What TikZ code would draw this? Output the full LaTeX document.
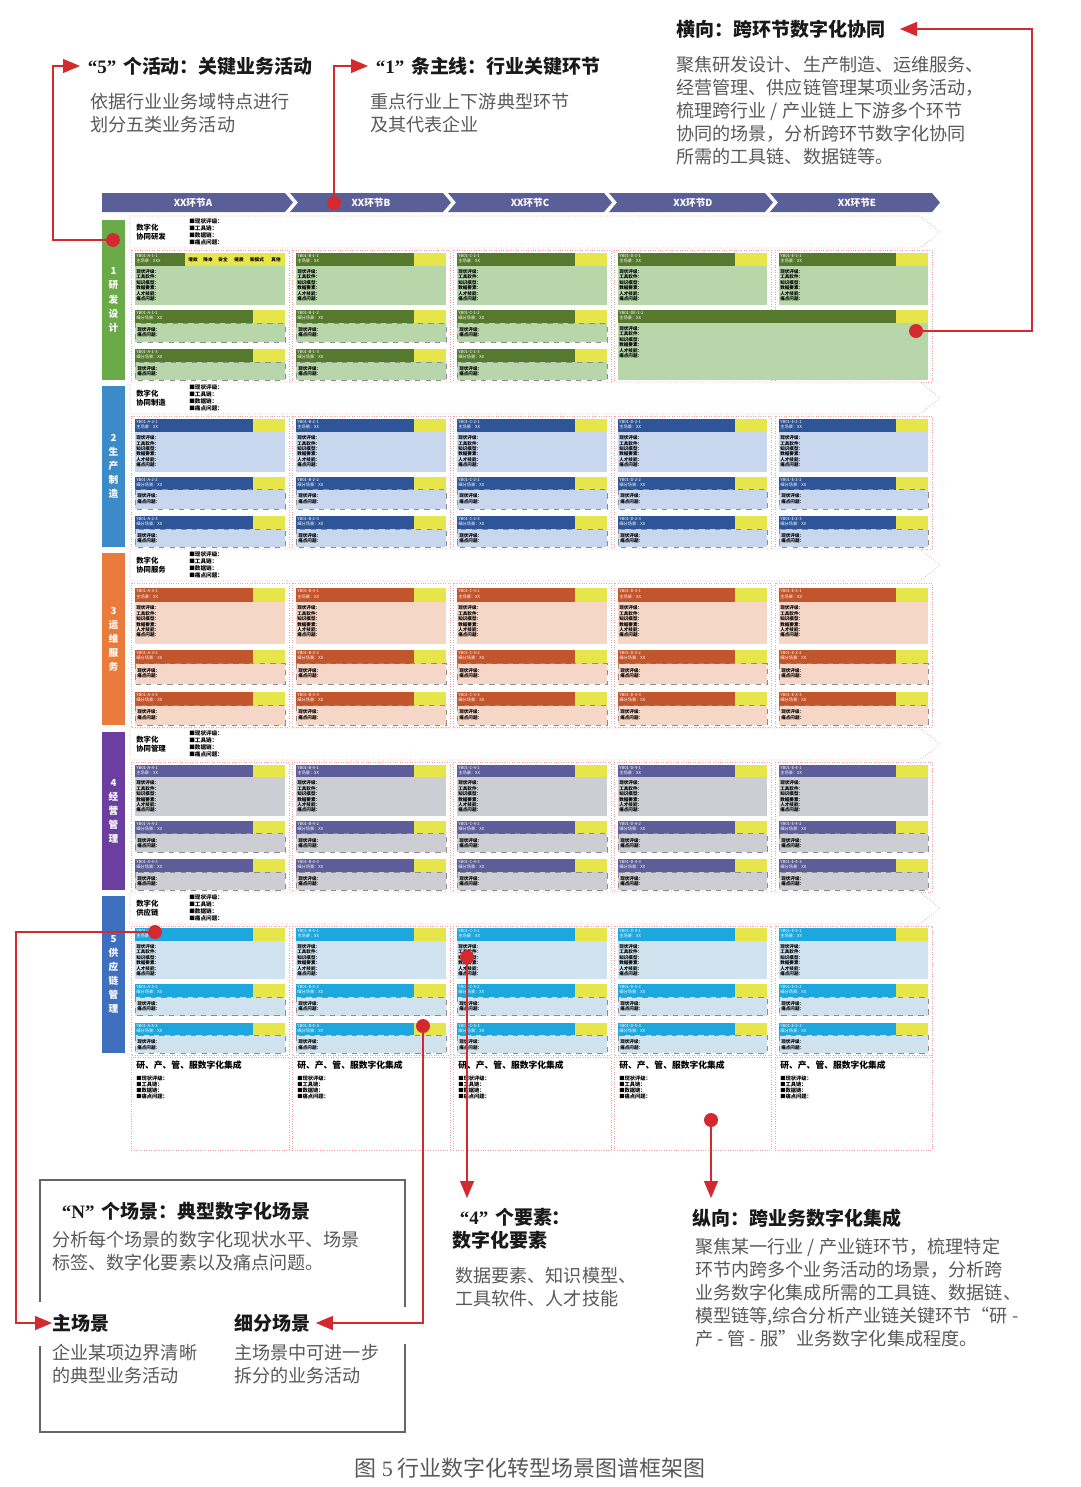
\documentclass[tikz,border=0pt]{standalone}
\usepackage{fontspec}
\setmainfont{Noto Sans CJK SC}
\newfontfamily\quotefont{Liberation Serif}
\usetikzlibrary{arrows.meta}

\definecolor{hdrbar}{HTML}{5B5F97}
\definecolor{gdk}{HTML}{557A2E}
\definecolor{glt}{HTML}{B7D7AA}
\definecolor{gbar}{HTML}{6BAA48}
\definecolor{bdk}{HTML}{2E5597}
\definecolor{blt}{HTML}{C8D6EE}
\definecolor{bbar}{HTML}{3D8AC9}
\definecolor{odk}{HTML}{C2552B}
\definecolor{olt}{HTML}{F6D6C7}
\definecolor{obar}{HTML}{E97C3C}
\definecolor{pdk}{HTML}{5C5D99}
\definecolor{plt}{HTML}{CDCED3}
\definecolor{pbar}{HTML}{6B3EA0}
\definecolor{cdk}{HTML}{1CA8DF}
\definecolor{clt}{HTML}{D0E2EE}
\definecolor{cbar}{HTML}{3F70C0}
\definecolor{tagyel}{HTML}{E6E64A}
\definecolor{annored}{HTML}{D42A2F}
\definecolor{framered}{HTML}{F2A0A0}

\newcommand{\qnum}[1]{\hspace{0.4em}{\quotefont “#1”}\hspace{0.35em}}

\tikzset{
  hdrlab/.style={text=white, font=\fontsize{5.5}{6.5}\selectfont\bfseries, inner sep=0pt},
  sidelab/.style={text=white, font=\fontsize{5.5}{8}\selectfont\bfseries, align=center, inner sep=0pt},
  collab/.style={draw=framered, densely dotted, fill=white, line width=0.4pt},
  colframe/.style={draw=framered, densely dotted, line width=0.4pt},
  boxttl/.style={anchor=west, font=\fontsize{4.2}{4.8}\selectfont\bfseries, align=left, inner sep=0pt},
  bullets/.style={anchor=west, font=\fontsize{3.2}{4}\selectfont\bfseries, align=left, inner sep=0pt},
  cardid/.style={anchor=north west, text=white, font=\fontsize{2.4}{2.9}\selectfont, align=left, inner sep=0pt},
  cardtxt/.style={anchor=north west, font=\fontsize{2.6}{3.1}\selectfont\bfseries, align=left, inner sep=0pt},
  tagtxt/.style={font=\fontsize{2.6}{3}\selectfont\bfseries, inner sep=0pt},
  intttl/.style={anchor=west, font=\fontsize{5}{6}\selectfont\bfseries, inner sep=0pt},
  intlist/.style={anchor=north west, font=\fontsize{3}{3.4}\selectfont\bfseries, align=left, inner sep=0pt},
  annodot/.style={circle, fill=annored, minimum size=0.28cm, inner sep=0pt},
  annoline/.style={draw=annored, line width=0.7pt},
  annoarrow/.style={annoline, -{Triangle[length=0.34cm, width=0.28cm]}},
  annottl/.style={font=\fontsize{10.8}{13.2}\selectfont\bfseries, text=black!90, inner sep=0pt, align=left},
  annobody/.style={font=\fontsize{10.3}{13.1}\selectfont, text=black!65, inner sep=0pt, align=left},
  boxline/.style={draw=black!60, line width=0.8pt}
}

\begin{document}
\begin{tikzpicture}[x=0.02cm, y=-0.02cm]
  \fill[white] (0,0) rectangle (1080,1487);
  \useasboundingbox (0,0) rectangle (1080,1487);

  % chain links along the top
  \fill[hdrbar] (102,193) -- (285,193) -- (293,202.5) -- (285,212) -- (102,212) -- cycle;
  \foreach \xs/\xe in {290/443, 448/604, 609/765, 770/932}
    \fill[hdrbar] (\xs,193) -- (\xe,193) -- (\xe+8,202.5) -- (\xe,212) -- (\xs,212) -- (\xs+8,202.5) -- cycle;
  \foreach \c/\x in {A/193, B/371, C/530, D/693, E/857}
    \node[hdrlab] (hd-\c) at (\x,202.5) {XX环节\c};

  % five activity rows
  \foreach \r/\T/\H/\dk/\lt/\br/\lab/\ttl in {
      1/220/160/gdk/glt/gbar/{1\\研\\发\\设\\计}/{数字化\\协同研发},
      2/386/161/bdk/blt/bbar/{2\\生\\产\\制\\造}/{数字化\\协同制造},
      3/553/172/odk/olt/obar/{3\\运\\维\\服\\务}/{数字化\\协同服务},
      4/732/158/pdk/plt/pbar/{4\\经\\营\\管\\理}/{数字化\\协同管理},
      5/896/157/cdk/clt/cbar/{5\\供\\应\\链\\管\\理}/{数字化\\供应链}}{
    \pgfmathsetmacro\s{\H/160}
    \pgfmathsetmacro\ya{\T+33*\s}
    \pgfmathsetmacro\yb{\T+46*\s}
    \pgfmathsetmacro\yc{\T+85*\s}
    \pgfmathsetmacro\yd{\T+90*\s}
    \pgfmathsetmacro\ye{\T+103*\s}
    \pgfmathsetmacro\yf{\T+122*\s}
    \pgfmathsetmacro\yg{\T+129*\s}
    \pgfmathsetmacro\yh{\T+142*\s}
    \pgfmathsetmacro\yi{\T+\H}
    \pgfmathsetmacro\ym{\T+\H/2}
    \fill[\br] (102,\T) rectangle (125,\yi);
    \node[sidelab] (side-\r) at (113.5,\ym) {\lab};
    \draw[collab] (130,\T-4) -- (920,\T-4) -- (940,\T+12) -- (920,\T+28) -- (130,\T+28) -- cycle;
    \node[boxttl] (ttl-\r) at (136,\T+12) {\ttl};
    \node[bullets] (lst-\r) at (189,\T+12) {■现状评级：\\■工具链：\\■数据链：\\■痛点问题：};
    \foreach \c/\i/\fl/\fr in {A/1/131/289, B/2/292/450, C/3/453/611, D/4/614/771, E/5/775/932}{
      \pgfmathsetmacro\xl{\fl+4}
      \pgfmathsetmacro\xr{\fr-4}
      \pgfmathtruncatemacro\first{(\r==1)&&(\i==1)}
      \pgfmathtruncatemacro\merged{(\r==1)&&(\i>3)}
      \draw[colframe] (\fl,\T+30) rectangle (\fr,\yi+2);
      % main scene card
      \fill[\dk] (\xl,\ya) rectangle (\xr,\yb);
      \fill[tagyel] (\xr-32,\ya) rectangle (\xr,\yb);
      \fill[\lt] (\xl,\yb) rectangle (\xr,\yc);
      \node[cardid] (id-\c-\r-1) at (\xl+1,\ya+1) {YB01-\c-\r-1\\主场景：XX\ifnum\first=1 X\fi};
      \node[cardtxt] (tx-\c-\r-1) at (\xl+1,\yb+3) {现状评级：\\工具软件：\\知识模型：\\数据要素：\\人才技能：\\痛点问题：};
      % sub scene cards
      \ifnum\merged=0
        \foreach \k/\ytop/\ymid/\ybot in {2/\yd/\ye/\yf, 3/\yg/\yh/\yi}{
          \fill[\dk] (\xl,\ytop) rectangle (\xr,\ymid);
          \fill[tagyel] (\xr-32,\ytop) rectangle (\xr,\ymid);
          \filldraw[fill=\lt, draw=black!45, dashed, line width=0.3pt] (\xl,\ymid) rectangle (\xr,\ybot);
          \node[cardid] (id-\c-\r-\k) at (\xl+1,\ytop+1) {YB01-\c-\r-\k\\细分场景：XX};
          \node[cardtxt] (tx-\c-\r-\k) at (\xl+2,\ymid+4) {现状评级：\\痛点问题：};
        }
      \fi
    }
  }

  % tags of the first card
  \fill[tagyel] (185,253) rectangle (285,266);
  \foreach \t/\x in {增效/193, 降本/208, 安全/223, 提质/239, 新模式/257, 其他/276}
    \node[tagtxt] (tag-\x) at (\x,259.5) {\t};

  % card spanning D and E
  \fill[gdk] (618,310) rectangle (928,323);
  \fill[tagyel] (896,310) rectangle (928,323);
  \fill[glt] (618,323) rectangle (928,380);
  \node[cardid] (id-DE-1-2) at (619,311) {YB01-DE-1-2\\主场景：XX};
  \node[cardtxt] (tx-DE-1-2) at (619,326) {现状评级：\\工具软件：\\知识模型：\\数据要素：\\人才技能：\\痛点问题：};

  % integration row
  \foreach \c/\fl/\fr in {A/131/289, B/292/450, C/453/611, D/614/771, E/775/932}{
    \draw[colframe] (\fl,1057) rectangle (\fr,1150);
    \node[intttl] (int-\c) at (\fl+5,1065) {研、产、管、服数字化集成};
    \node[intlist] (intl-\c) at (\fl+5,1076) {■现状评级：\\■工具链：\\■数据链：\\■痛点问题：};
  }

  % notes
  \node[annottl, anchor=west] (t5) at (80,66) {\qnum{5}个活动：关键业务活动};
  \node[annobody, anchor=north west] (b5) at (90,93) {依据行业业务域特点进行\\划分五类业务活动};
  \node[annottl, anchor=west] (t1) at (368,66) {\qnum{1}条主线：行业关键环节};
  \node[annobody, anchor=north west] (b1) at (370,93) {重点行业上下游典型环节\\及其代表企业};
  \node[annottl, anchor=west] (tH) at (676,29) {横向：跨环节数字化协同};
  \node[annobody, anchor=north west] (bH) at (676,56) {聚焦研发设计、生产制造、运维服务、\\经营管理、供应链管理某项业务活动，\\梳理跨行业 / 产业链上下游多个环节\\协同的场景，分析跨环节数字化协同\\所需的工具链、数据链等。};

  \draw[boxline] (40,1302) -- (40,1180) -- (405,1180) -- (405,1307);
  \draw[boxline] (40,1346) -- (40,1432) -- (405,1432) -- (405,1344);
  \node[annottl, anchor=west] (tN) at (54,1211) {\qnum{N}个场景：典型数字化场景};
  \node[annobody, anchor=north west] (bN) at (52,1231) {分析每个场景的数字化现状水平、场景\\标签、数字化要素以及痛点问题。};
  \node[annottl, anchor=west] (tMain) at (52,1323) {主场景};
  \node[annobody, anchor=north west] (bMain) at (52,1344) {企业某项边界清晰\\的典型业务活动};
  \node[annottl, anchor=west] (tSub) at (234,1323) {细分场景};
  \node[annobody, anchor=north west] (bSub) at (234,1344) {主场景中可进一步\\拆分的业务活动};

  \node[annottl, anchor=north west] (t4) at (452,1208) {\qnum{4}个要素：\\数字化要素};
  \node[annobody, anchor=north west] (b4) at (455,1267) {数据要素、知识模型、\\工具软件、人才技能};
  \node[annottl, anchor=west] (tZ) at (692,1218) {纵向：跨业务数字化集成};
  \node[annobody, anchor=north west] (bZ) at (695,1238) {聚焦某一行业 / 产业链环节，梳理特定\\环节内跨多个业务活动的场景，分析跨\\业务数字化集成所需的工具链、数据链、\\模型链等,综合分析产业链关键环节“研 -\\产 - 管 - 服”业务数字化集成程度。};

  \node[font=\fontsize{12.5}{14}\selectfont, text=black!65, inner sep=0pt] (caption) at (530,1468) {图 {\quotefont 5} 行业数字化转型场景图谱框架图};

  % red markers and leaders
  \node[annodot] (dot1) at (113,240) {};
  \node[annodot] (dot2) at (334,203) {};
  \node[annodot] (dot3) at (916,331) {};
  \node[annodot] (dot4) at (155,932) {};
  \node[annodot] (dot5) at (423,1026) {};
  \node[annodot] (dot6) at (467,957) {};
  \node[annodot] (dot7) at (711,1120) {};

  \coordinate (k5) at (53,66);
  \coordinate (k1) at (334,66);
  \coordinate (kH) at (1032,29);
  \coordinate (kHt) at (900,29);
  \coordinate (kM) at (16,1323);
  \coordinate (kS) at (423,1323);
  \coordinate (k4) at (467,1198);
  \coordinate (kZ) at (711,1198);

  \draw[annoarrow] (dot1) -| (k5) -- (t5.west);
  \draw[annoarrow] (dot2) -- (k1) -- (t1.west);
  \draw[annoarrow] (dot3) -| (kH) -- (kHt);
  \draw[annoarrow] (dot4) -| (kM) -- (tMain.west);
  \draw[annoarrow] (dot5) -- (kS) -- ([xshift=3pt]tSub.east);
  \draw[annoarrow] (dot6) -- (k4);
  \draw[annoarrow] (dot7) -- (kZ);
\end{tikzpicture}
\end{document}
